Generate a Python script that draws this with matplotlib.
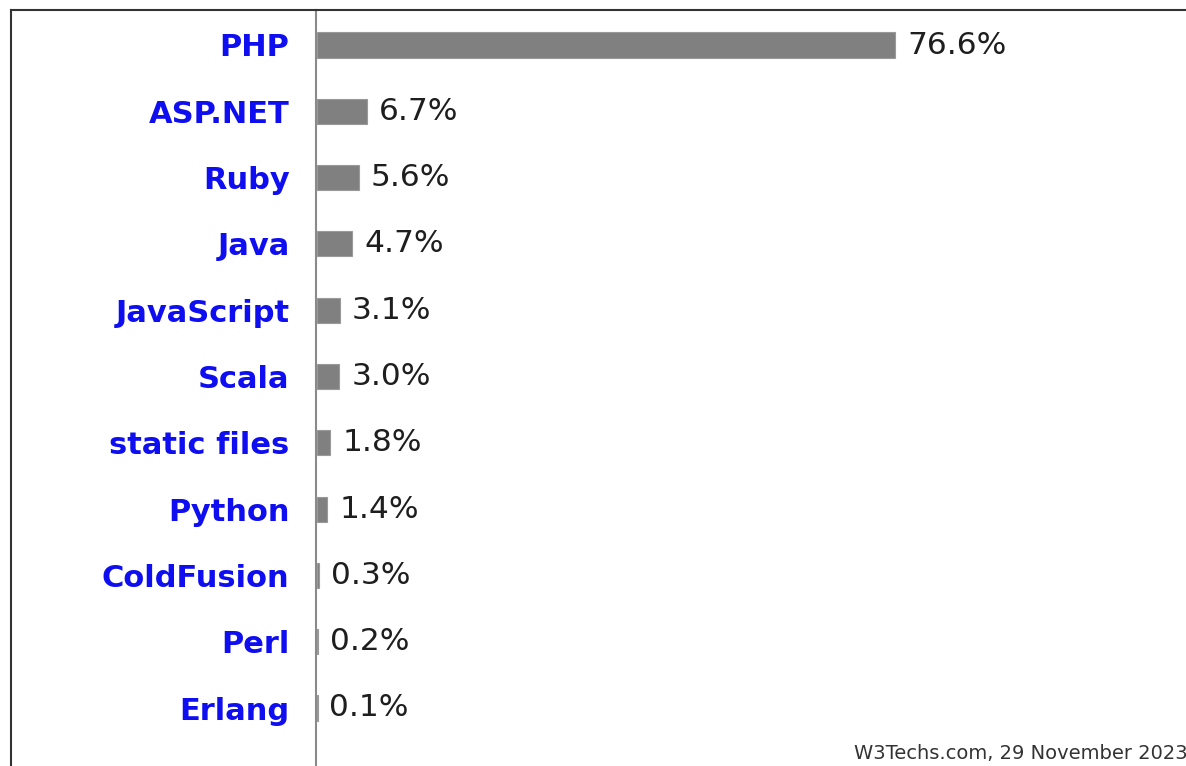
import matplotlib
matplotlib.use("Agg")
import matplotlib.pyplot as plt
from matplotlib.lines import Line2D

categories = ["PHP", "ASP.NET", "Ruby", "Java", "JavaScript", "Scala",
              "static files", "Python", "ColdFusion", "Perl", "Erlang"]
values = [76.6, 6.7, 5.6, 4.7, 3.1, 3.0, 1.8, 1.4, 0.3, 0.2, 0.1]
value_labels = ["76.6%", "6.7%", "5.6%", "4.7%", "3.1%", "3.0%",
                "1.8%", "1.4%", "0.3%", "0.2%", "0.1%"]
footer = "W3Techs.com, 29 November 2023"

W, H = 1186, 766
fig = plt.figure(figsize=(W / 100, H / 100), dpi=100)
fig.patch.set_facecolor("white")

# axes: left edge at x=316px, top at y=10px
ax_left, ax_top = 316, 10
ax = fig.add_axes([ax_left / W, 0, (W - ax_left) / W, (H - ax_top) / H])
px_per_unit = 7.55
row_h = 66.3
first_center = 45
ax.set_xlim(0, (W - ax_left) / px_per_unit)
ax.set_ylim((H - first_center) / row_h, -(first_center - ax_top) / row_h)

ypos = list(range(len(categories)))
ax.barh(ypos, values, height=0.38, color="#808080", edgecolor="#9a9a9a",
        linewidth=0.8, left=0.1)

for y, v, lab in zip(ypos, values, value_labels):
    ax.annotate(lab, xy=(v + 0.1, y), xytext=(8.5, 0), textcoords="offset points",
                ha="left", va="center", fontsize=22.5, color="#1e1e1e",
                family="DejaVu Sans")

ax.set_yticks(ypos)
ax.set_yticklabels(categories, fontsize=22, fontweight="bold", color="#0e0ef0",
                   family="DejaVu Sans")
ax.tick_params(axis="y", length=0, pad=19)
ax.set_xticks([])
for s in ["top", "right", "bottom"]:
    ax.spines[s].set_visible(False)
ax.spines["left"].set_color("#8a8a8a")
ax.spines["left"].set_linewidth(1.5)

# outer frame lines
fig.add_artist(Line2D([11 / W, 11 / W], [0, 1 - 10 / H], transform=fig.transFigure,
                      color="#333333", linewidth=1.5))
fig.add_artist(Line2D([11 / W, 1], [1 - 10 / H, 1 - 10 / H], transform=fig.transFigure,
                      color="#333333", linewidth=1.5))

fig.text(1 + 2 / W, 3 / H, footer, ha="right", va="bottom", fontsize=14,
         color="#333333", family="DejaVu Sans")

fig.savefig("out.png", dpi=100)
